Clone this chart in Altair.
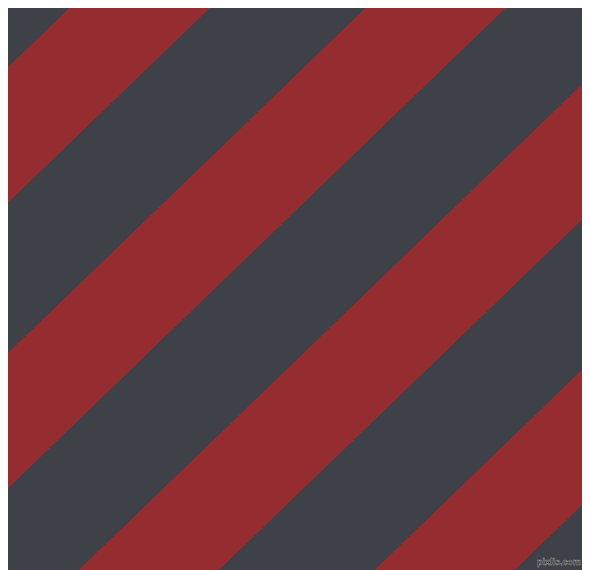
import altair as alt
import pandas as pd

DARK = "#3f4149"
RED = "#952d30"

# Diagonal stripe boundaries (image pixel coords):
# y at x=0 of the upper and lower edge of each red stripe, and common slope.
stripe_ids = ["s1", "s2", "s3", "s4"]
red_upper_y0 = [75.0, 360.7, 646.0, 931.5]
red_lower_y0 = [210.5, 495.9, 781.3, 1066.7]
slope = 0.965  # image-y drop per image-x pixel
x_ends = [-40.0, 640.0]

rows = []
for sid, u, l in zip(stripe_ids, red_upper_y0, red_lower_y0):
    for x in x_ends:
        rows.append({"stripe": sid, "x": x, "top": u - slope * x, "bottom": l - slope * x})
df = pd.DataFrame(rows)

xs = alt.Scale(domain=[8, 582], nice=False, zero=False)
ys = alt.Scale(domain=[8, 570], reverse=True, nice=False, zero=False)

stripes = alt.Chart(df).mark_area(clip=True, color=RED, interpolate="linear").encode(
    x=alt.X("x:Q", scale=xs, axis=None),
    y=alt.Y("top:Q", scale=ys, axis=None),
    y2="bottom:Q",
    detail="stripe:N",
)

wm = pd.DataFrame({"x": [581], "y": [565], "label": ["pixlis.com"]})
watermark = alt.Chart(wm).mark_text(
    align="right", baseline="alphabetic", fontSize=9, fontWeight="bold",
    font="Liberation Sans", color="#111111", stroke="#a0a0a0", strokeWidth=0.5,
).encode(
    x=alt.X("x:Q", scale=xs, axis=None),
    y=alt.Y("y:Q", scale=ys, axis=None),
    text="label:N",
)

chart = (
    alt.layer(stripes, watermark)
    .properties(width=574, height=562, padding=0, background=DARK, autosize="none")
    .configure_view(fill=DARK, strokeWidth=0)
)

chart.save("out.html", embed_options={"renderer": "svg", "actions": False})
